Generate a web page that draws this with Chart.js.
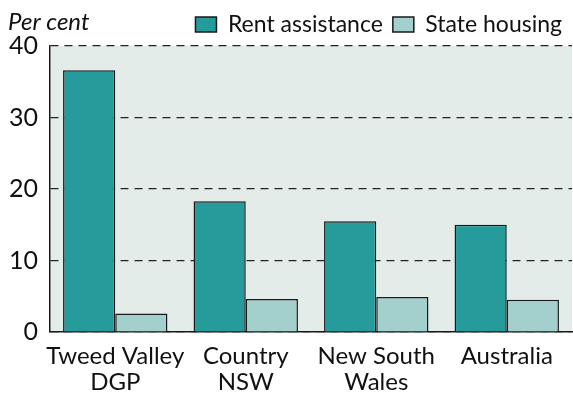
<!DOCTYPE html>
<html>
<head>
<meta charset="utf-8">
<script src="https://cdn.jsdelivr.net/npm/chart.js@4"></script>
<style>
  html, body { margin: 0; padding: 0; background: #fff; }
  #grafico { display: block; }
</style>
</head>
<body>
<canvas id="grafico" width="573" height="401"></canvas>
<script>
const categorias = [['Tweed Valley', 'DGP'], ['Country', 'NSW'], ['New South', 'Wales'], ['Australia']];
const ayudaAlquiler = [36.6, 18.3, 15.5, 15.0];
const viviendaEstatal = [2.6, 4.6, 4.9, 4.5];
const nombresSeries = ['Rent assistance', 'State housing'];
const ticksY = [0, 10, 20, 30, 40];

const fuente = 'Lato, "DejaVu Sans", sans-serif';

// fondo del area del grafico y el rotulo "Per cent"
const fondoYTitulo = {
  id: 'fondoYTitulo',
  beforeDraw(chart) {
    const { ctx, chartArea } = chart;
    ctx.save();
    ctx.fillStyle = '#e4ecea';
    ctx.fillRect(chartArea.left, chartArea.top, chartArea.right - chartArea.left, chartArea.bottom - chartArea.top);
    ctx.restore();
  },
  afterDraw(chart) {
    const ctx = chart.ctx;
    ctx.save();
    ctx.font = 'italic 24px ' + fuente;
    ctx.fillStyle = '#111';
    ctx.textBaseline = 'middle';
    ctx.fillText('Per cent', 8, 22);
    ctx.restore();
  }
};

new Chart(document.getElementById('grafico'), {
  type: 'bar',
  data: {
    labels: categorias,
    datasets: [{
      label: nombresSeries[0],
      data: ayudaAlquiler,
      backgroundColor: '#269b9b',
      borderColor: '#1a1a1a',
      borderWidth: 1.5
    }, {
      label: nombresSeries[1],
      data: viviendaEstatal,
      backgroundColor: '#a3cfcd',
      borderColor: '#1a1a1a',
      borderWidth: 1.5
    }]
  },
  options: {
    responsive: false,
    animation: false,
    layout: { padding: { left: 0, right: 1, top: 3, bottom: 0 } },
    datasets: { bar: { categoryPercentage: 0.8, barPercentage: 1.0 } },
    plugins: {
      tooltip: { enabled: false },
      legend: {
        position: 'top',
        align: 'end',
        labels: {
          boxWidth: 21,
          boxHeight: 15,
          padding: 10,
          color: '#111',
          font: { family: fuente, size: 23 }
        }
      }
    },
    scales: {
      x: {
        afterFit(axis) { axis.height = 69; },
        grid: { display: false },
        border: { display: true, color: '#1a1a1a', width: 1.5 },
        ticks: {
          color: '#111',
          font: { family: fuente, size: 24, lineHeight: 1.05 },
          padding: 4,
          maxRotation: 0,
          autoSkip: false
        }
      },
      y: {
        min: 0,
        max: 40,
        afterFit(axis) { axis.width = 50; },
        afterBuildTicks(axis) { axis.ticks = ticksY.map(v => ({ value: v })); },
        grid: { color: '#222', lineWidth: 1.2, drawTicks: false },
        border: { display: true, color: '#1a1a1a', width: 1.5, dash: [8, 6] },
        ticks: {
          color: '#111',
          font: { family: fuente, size: 25 },
          padding: 12
        }
      }
    }
  },
  plugins: [fondoYTitulo]
});
</script>
</body>
</html>
